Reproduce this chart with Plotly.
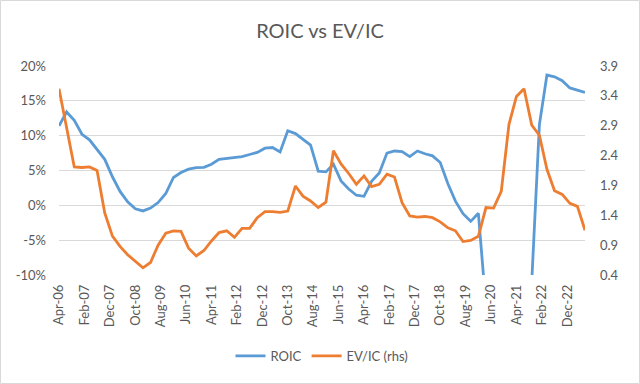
import pandas as pd
import plotly.graph_objects as go

start_date = "2006-04-01"
n_points = 70
roic_pct = [11.4, 13.4, 12.2, 10.2, 9.4, 8.0, 6.6, 4.1, 2.0, 0.5,
            -0.5, -0.8, -0.4, 0.4, 1.7, 4.0, 4.7, 5.2, 5.4, 5.45,
            5.9, 6.6, 6.7, 6.9, 7.0, 7.3, 7.6, 8.2, 8.3, 7.65,
            10.7, 10.3, 9.5, 8.65, 4.9, 4.8, 5.9, 3.5, 2.35, 1.45,
            1.3, 3.45, 4.65, 7.5, 7.8, 7.7, 7.0, 7.8, 7.4, 7.1,
            6.15, 3.1, 0.6, -1.2, -2.3, -1.15, -14.5, -25.0, -30.0, -28.0,
            -24.0, -18.0, -11.0, 11.6, 18.7, 18.45, 17.9, 16.85, 16.5, 16.2]
ev_ic = [3.52, 2.86, 2.21, 2.20, 2.21, 2.15, 1.44, 1.05, 0.88, 0.74,
         0.63, 0.52, 0.61, 0.90, 1.10, 1.14, 1.13, 0.85, 0.72, 0.81,
         0.97, 1.11, 1.14, 1.03, 1.18, 1.18, 1.36, 1.46, 1.46, 1.45,
         1.47, 1.89, 1.72, 1.64, 1.53, 1.62, 2.48, 2.26, 2.10, 1.92,
         2.06, 1.88, 1.92, 2.09, 2.04, 1.61, 1.39, 1.37, 1.38, 1.36,
         1.29, 1.19, 1.14, 0.96, 0.98, 1.05, 1.53, 1.52, 1.80, 2.92,
         3.39, 3.52, 2.91, 2.74, 2.17, 1.81, 1.75, 1.60, 1.55, 1.15]
left_ticks = [-0.10, -0.05, 0.0, 0.05, 0.10, 0.15, 0.20]
left_labels = ["-10%", "-5%", "0%", "5%", "10%", "15%", "20%"]
right_ticks = [0.4, 0.9, 1.4, 1.9, 2.4, 2.9, 3.4, 3.9]

dates = pd.date_range(start_date, periods=n_points, freq="3MS")
roic = [v / 100 for v in roic_pct]
xticks = pd.date_range(start_date, "2022-12-01", freq="10MS")

grey = "#595959"
font_family = "Lato"

fig = go.Figure()
fig.add_trace(go.Scatter(x=dates, y=roic, mode="lines", name="ROIC",
                         line=dict(color="#5B9BD5", width=2.8)))
fig.add_trace(go.Scatter(x=dates, y=ev_ic, mode="lines", name="EV/IC (rhs)",
                         yaxis="y2", line=dict(color="#ED7D31", width=2.8)))

fig.update_layout(
    width=640, height=384,
    margin=dict(l=59, r=55, t=66, b=109),
    paper_bgcolor="white", plot_bgcolor="white",
    font=dict(family=font_family, color=grey, size=13),
    title=dict(text="ROIC vs EV/IC", x=0.5, xanchor="center", y=1 - 31 / 384,
               yanchor="middle", font=dict(size=20, color=grey, family=font_family)),
    xaxis=dict(type="date", range=[dates[0], dates[-1]], tickvals=xticks,
               tickformat="%b-%y", tickangle=-90, showgrid=False,
               ticks="", showline=False, zeroline=False,
               tickfont=dict(size=13, color=grey), ticklabelstandoff=6),
    yaxis=dict(range=[-0.10, 0.20], tickvals=left_ticks, ticktext=left_labels,
               showgrid=True, gridcolor="#D9D9D9", gridwidth=1, zeroline=False,
               ticks="", showline=False, tickfont=dict(size=13, color=grey),
               ticklabelstandoff=12),
    yaxis2=dict(range=[0.4, 3.9], tickvals=right_ticks, tickformat=".1f",
                overlaying="y", side="right", showgrid=False, zeroline=False,
                ticks="", showline=False, tickfont=dict(size=13, color=grey),
                ticklabelstandoff=14),
    legend=dict(orientation="h", x=0.5, xanchor="center", y=(275 - 356) / 209,
                yanchor="middle", font=dict(size=13, color=grey),
                bgcolor="rgba(0,0,0,0)"),
    showlegend=True,
)

fig.add_shape(type="rect", xref="paper", yref="paper",
              x0=(0.5 - 59) / 526, x1=(639.5 - 59) / 526,
              y0=(275 - 383.5) / 209, y1=(275 - 0.5) / 209,
              line=dict(color="#D9D9D9", width=1), fillcolor="rgba(0,0,0,0)",
              layer="below")

fig.write_html("out.html", config={"displayModeBar": False})

# remove the default page margin so the figure sits at the window's top-left corner
with open("out.html", "r", encoding="utf-8") as f:
    html = f.read()
html = html.replace("<head>", "<head><style>html,body{margin:0;padding:0;overflow:hidden;}</style>", 1)
with open("out.html", "w", encoding="utf-8") as f:
    f.write(html)
